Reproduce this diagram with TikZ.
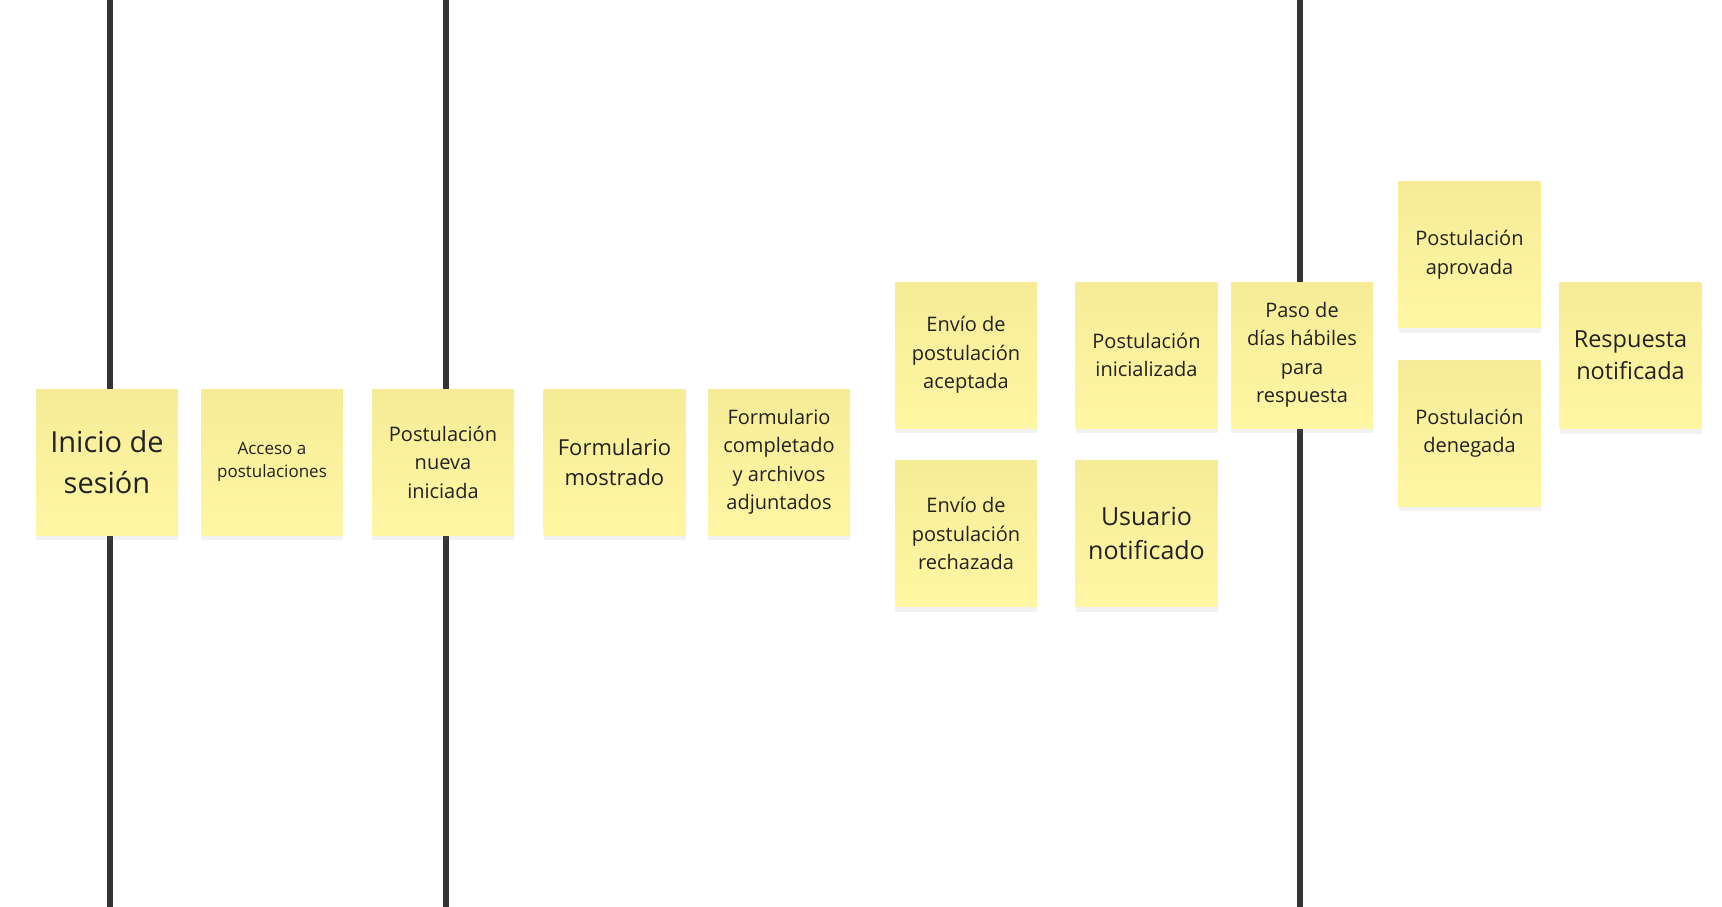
\documentclass[tikz,border=0pt]{standalone}
\usepackage{fontspec}
\setmainfont{Open Sans}
\usetikzlibrary{shadows}
\definecolor{stickytop}{HTML}{F6EC98}
\definecolor{stickybot}{HTML}{FFF6A3}
\definecolor{lanecol}{HTML}{333333}
\definecolor{txt}{HTML}{222222}
\tikzset{
  sticky/.style={rectangle, minimum width=142pt, minimum height=146pt, inner sep=0pt,
    top color=stickytop, bottom color=stickybot, draw=none, align=center, text=txt,
    drop shadow={opacity=0.10, shadow xshift=0pt, shadow yshift=-5pt},
    font=\fontsize{20}{28.5}\selectfont},
  fsmall/.style={font=\fontsize{17}{23}\selectfont},
  fmed/.style={font=\fontsize{22}{30}\selectfont},
  fmedl/.style={font=\fontsize{23.5}{32}\selectfont},
  flarge/.style={font=\fontsize{25}{34}\selectfont},
  fhuge/.style={font=\fontsize{29}{40.5}\selectfont},
  lane/.style={draw=lanecol, line width=6pt}
}
\begin{document}
\begin{tikzpicture}[x=1pt,y=-1pt]
\useasboundingbox[fill=white] (0,0) rectangle (1722,907);
\coordinate (l1t) at (110,0); \coordinate (l1b) at (110,907);
\coordinate (l2t) at (446,0); \coordinate (l2b) at (446,907);
\coordinate (l3t) at (1300,0); \coordinate (l3b) at (1300,907);
\draw[lane] (l1t) -- (l1b);
\draw[lane] (l2t) -- (l2b);
\draw[lane] (l3t) -- (l3b);

\node[sticky, fhuge] (n1) at (107,462) {Inicio de\\sesión};
\node[sticky, fsmall] (n2) at (272,462) {Acceso a\\postulaciones};
\node[sticky] (n3) at (443,462) {Postulación\\nueva\\iniciada};
\node[sticky, fmed] (n4) at (614.5,462) {Formulario\\mostrado};
\node[sticky] (n5) at (779,462) {Formulario\\completado\\y archivos\\adjuntados};

\node[sticky] (n6) at (966,355) {Envío de\\postulación\\aceptada};
\node[sticky] (n7) at (1146.5,355) {Postulación\\inicializada};
\node[sticky] (n8) at (1302,355) {Paso de\\días hábiles\\para\\respuesta};
\node[sticky] (n9) at (966,533.5) {Envío de\\postulación\\rechazada};
\node[sticky, flarge] (n10) at (1146.5,533.5) {Usuario\\notificado};

\node[sticky] (n11) at (1469.5,254.5) {Postulación\\aprovada};
\node[sticky] (n12) at (1469.5,433) {Postulación\\denegada};
\node[sticky, fmedl] (n13) at (1630.5,355.5) {Respuesta\\notificada};
\end{tikzpicture}
\end{document}
